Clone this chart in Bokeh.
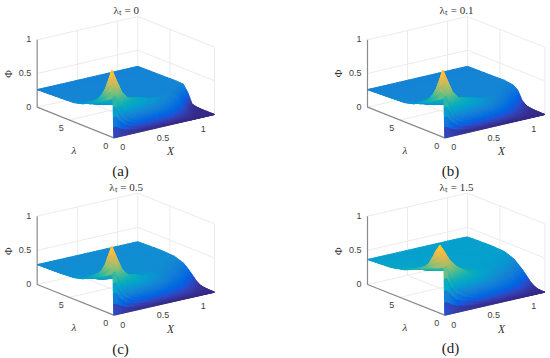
import numpy as np
from bokeh.embed import file_html
from bokeh.resources import INLINE
from bokeh.models import ColumnDataSource, Range1d
from bokeh.plotting import figure
from bokeh.layouts import column, row
from bokeh.transform import linear_cmap
from bokeh.core.properties import value

X_GRID = [0, .03, .08, .15, .25, .4, .55, .7, .85, 1, 1.12, 1.25]
LAMBDA_GRID = [0, .1, .25, .5, .8, 1.2, 1.6, 2, 2.5, 3, 3.5, 4.5, 6, 8.6]

TITLES = ["λₜ = 0", "λₜ = 0.1", "λₜ = 0.5", "λₜ = 1.5"]
TAGS = ["(a)", "(b)", "(c)", "(d)"]
Z_TICKS = ["0", "0.5", "1"]
Z_TICK_VALUES = [0, .5, 1]
X_TICKS = ["0", "0.5", "1"]
X_TICK_VALUES = [0, .5, 1]
LAMBDA_TICKS = ["0", "5"]
LAMBDA_TICK_VALUES = [0, 5]

PHI_A = [
    [0] * 12,
    [.58, .60, .43, .28, .19, .12, .07, .03, .01, 0, 0, 0],
    [.57, .85, .68, .47, .35, .25, .17, .09, .03, .01, 0, 0],
    [.55, .97, .82, .62, .47, .37, .27, .18, .08, .02, .005, 0],
    [.52, .83, .72, .58, .49, .41, .34, .26, .13, .04, .005, 0],
    [.49, .66, .58, .51, .46, .42, .37, .31, .22, .08, .01, 0],
    [.45, .55, .47, .43, .39, .36, .33, .32, .28, .16, .03, .002],
    [.42, .47, .42, .37, .33, .31, .29, .29, .29, .24, .06, .005],
    [.39, .41, .36, .32, .30, .28, .27, .27, .275, .27, .17, .02],
    [.355, .37, .33, .30, .28, .27, .27, .27, .27, .27, .26, .17],
    [.32, .33, .30, .285, .275, .27, .27, .27, .27, .27, .27, .265],
    [.285, .295, .28, .275, .27, .27, .265, .265, .27, .27, .27, .27],
    [.275, .275, .27, .27, .265, .265, .265, .265, .265, .265, .265, .265],
    [.26] * 12,
]
PHI_B = [
    [0] * 12,
    [.58, .60, .43, .28, .19, .12, .07, .03, .01, .005, 0, 0],
    [.57, .85, .68, .47, .35, .25, .16, .09, .04, .015, .005, 0],
    [.55, .97, .82, .62, .47, .37, .27, .18, .09, .035, .01, .002],
    [.52, .83, .72, .58, .49, .41, .34, .25, .14, .07, .02, .003],
    [.49, .66, .58, .51, .46, .42, .37, .30, .21, .11, .04, .005],
    [.45, .55, .47, .43, .39, .36, .33, .31, .26, .16, .08, .01],
    [.42, .47, .42, .37, .33, .31, .29, .29, .28, .21, .13, .02],
    [.39, .41, .36, .32, .30, .28, .27, .27, .275, .26, .20, .07],
    [.355, .37, .33, .30, .28, .27, .27, .27, .27, .27, .245, .20],
    [.32, .33, .30, .285, .275, .27, .27, .27, .27, .27, .265, .25],
    [.285, .295, .28, .275, .27, .27, .265, .265, .27, .27, .27, .27],
    [.275, .275, .27, .27, .265, .265, .265, .265, .265, .265, .265, .265],
    [.26] * 12,
]
PHI_C = [
    [0] * 12,
    [.60, .62, .44, .28, .19, .12, .07, .03, .012, .005, .002, 0],
    [.59, .85, .68, .47, .35, .25, .16, .09, .045, .02, .008, .001],
    [.57, .97, .82, .62, .47, .38, .27, .18, .10, .05, .02, .002],
    [.54, .85, .73, .59, .49, .41, .33, .24, .15, .085, .035, .004],
    [.51, .68, .60, .52, .47, .42, .36, .30, .21, .13, .06, .008],
    [.48, .57, .50, .45, .41, .38, .35, .32, .25, .18, .10, .02],
    [.45, .50, .45, .40, .37, .35, .33, .32, .28, .23, .15, .055],
    [.42, .45, .40, .36, .34, .32, .31, .31, .30, .27, .21, .125],
    [.385, .40, .36, .335, .32, .31, .305, .30, .30, .285, .25, .19],
    [.35, .36, .335, .32, .31, .305, .30, .30, .30, .295, .28, .245],
    [.315, .32, .31, .305, .30, .30, .30, .30, .30, .30, .295, .29],
    [.30] * 12,
    [.29] * 12,
]
PHI_D = [
    [0] * 12,
    [.69, .70, .53, .36, .26, .17, .11, .06, .03, .01, .003, 0],
    [.69, .80, .66, .48, .38, .28, .20, .13, .07, .03, .01, 0],
    [.67, .90, .80, .62, .50, .39, .30, .22, .14, .07, .025, .002],
    [.65, .97, .87, .72, .59, .46, .37, .29, .20, .13, .05, .006],
    [.63, .88, .80, .70, .59, .48, .41, .34, .26, .19, .10, .03],
    [.61, .76, .70, .63, .55, .47, .42, .37, .31, .25, .16, .07],
    [.585, .65, .62, .57, .51, .44, .41, .375, .34, .30, .22, .13],
    [.55, .57, .55, .51, .46, .42, .39, .375, .355, .335, .28, .20],
    [.52, .53, .50, .47, .43, .40, .38, .37, .365, .355, .325, .26],
    [.485, .49, .47, .44, .41, .39, .375, .37, .37, .365, .35, .31],
    [.43, .435, .425, .41, .39, .375, .37, .37, .37, .37, .365, .36],
    [.385, .39, .385, .38, .375, .37, .365, .37, .37, .37, .37, .37],
    [.365] * 11 + [.36],
]
PANEL_PHI = [PHI_A, PHI_B, PHI_C, PHI_D]

PARULA_RGB = [
    (.2081,.1663,.5292),(.2116,.1898,.5777),(.2123,.2138,.6270),(.2081,.2386,.6771),(.1959,.2645,.7279),
    (.1707,.2919,.7792),(.1253,.3242,.8303),(.0591,.3598,.8683),(.0117,.3875,.8820),(.0060,.4086,.8828),
    (.0165,.4266,.8786),(.0329,.4430,.8720),(.0498,.4586,.8641),(.0629,.4737,.8554),(.0723,.4887,.8467),
    (.0779,.5040,.8384),(.0793,.5200,.8312),(.0749,.5375,.8263),(.0641,.5570,.8240),(.0488,.5772,.8228),
    (.0343,.5966,.8199),(.0265,.6137,.8135),(.0239,.6287,.8038),(.0231,.6418,.7913),(.0228,.6535,.7768),
    (.0267,.6642,.7607),(.0384,.6743,.7436),(.0590,.6838,.7254),(.0843,.6928,.7062),(.1133,.7015,.6859),
    (.1453,.7098,.6646),(.1801,.7177,.6424),(.2178,.7250,.6193),(.2586,.7317,.5954),(.3022,.7376,.5712),
    (.3482,.7424,.5473),(.3953,.7459,.5244),(.4420,.7481,.5033),(.4871,.7491,.4840),(.5300,.7491,.4661),
    (.5709,.7485,.4494),(.6099,.7473,.4337),(.6473,.7456,.4188),(.6834,.7435,.4044),(.7184,.7411,.3905),
    (.7525,.7384,.3768),(.7858,.7356,.3633),(.8185,.7327,.3498),(.8507,.7299,.3360),(.8824,.7274,.3217),
    (.9139,.7258,.3063),(.9450,.7261,.2886),(.9739,.7314,.2666),(.9938,.7455,.2403),(.9990,.7653,.2164),
    (.9955,.7861,.1967),(.9880,.8066,.1794),(.9789,.8271,.1633),(.9697,.8481,.1475),(.9626,.8705,.1309),
    (.9589,.8949,.1132),(.9598,.9218,.0948),(.9661,.9514,.0755),(.9763,.9831,.0538)]
_rgb = np.array(PARULA_RGB)
_pos = np.linspace(0, 63, 256)
PALETTE = ["#%02x%02x%02x" % tuple(int(round(np.interp(q, np.arange(64), _rgb[:, c]) * 255)) for c in range(3))
           for q in _pos]

BOXES = [
    dict(front=(340, 412), left=(110, 320), right=(642, 342), h=202, title=(377, 28), tag=(360, 512), phi=(24, 220)),
    dict(front=(508, 412), left=(276, 320), right=(808, 342), h=202, title=(543, 28), tag=(525, 510), phi=(190, 219)),
    dict(front=(340, 407), left=(110, 315), right=(642, 338), h=205, title=(377, 23), tag=(360, 507), phi=(24, 215)),
    dict(front=(508, 407), left=(276, 315), right=(808, 338), h=205, title=(543, 23), tag=(525, 505), phi=(190, 215)),
]
SUB = 4
XMAX = X_GRID[-1]
LMAX = LAMBDA_GRID[-1]
GRID = "#ebebeb"
AXIS = "#8a8a8a"
TEXT = "#404040"


def make_panel(i):
    box = BOXES[i]
    fx, fy = box["front"]
    lx, ly = box["left"]
    rx, ry = box["right"]
    h = box["h"]

    def proj(X, L, Z):
        a, b = np.asarray(X) / XMAX, np.asarray(L) / LMAX
        return fx + a * (rx - fx) + b * (lx - fx), fy + a * (ry - fy) + b * (ly - fy) - np.asarray(Z) * h

    p = figure(width=275, height=179, output_backend="svg", toolbar_location=None,
               x_range=Range1d(0, 825), y_range=Range1d(537, 0), min_border=0,
               outline_line_color=None, background_fill_color="white", border_fill_color="white")
    p.axis.visible = False
    p.grid.visible = False

    def seg(pts, color, width):
        xs, ys = proj(*zip(*pts))
        p.line(list(xs), list(ys), line_color=color, line_width=width)

    for z in [0, .5, 1]:
        seg([(0, LMAX, z), (XMAX, LMAX, z), (XMAX, 0, z)], GRID, 1)
    seg([(XMAX, LMAX, 0), (XMAX, LMAX, 1)], GRID, 1)
    seg([(XMAX, 0, 0), (XMAX, 0, 1)], GRID, 1)
    for v in X_TICK_VALUES[1:]:
        seg([(v, 0, 0), (v, LMAX, 0), (v, LMAX, 1)], GRID, 1)
    for v in LAMBDA_TICK_VALUES[1:]:
        seg([(0, v, 0), (XMAX, v, 0), (XMAX, v, 1)], GRID, 1)
    seg([(0, LMAX, 1), (0, LMAX, 0), (0, 0, 0), (XMAX, 0, 0)], AXIS, 1.2)

    phi = np.array(PANEL_PHI[i], dtype=float)
    Xg, Lg = np.array(X_GRID), np.array(LAMBDA_GRID)
    xs, ys, zs = [], [], []
    t = np.linspace(0, 1, SUB + 1)
    for j in range(len(Lg) - 2, -1, -1):
        for k in range(len(Xg) - 2, -1, -1):
            q00, q01 = phi[j, k], phi[j, k + 1]
            q10, q11 = phi[j + 1, k], phi[j + 1, k + 1]
            for v in range(SUB - 1, -1, -1):
                for u in range(SUB - 1, -1, -1):
                    us = np.array([t[u], t[u + 1], t[u + 1], t[u]])
                    vs = np.array([t[v], t[v], t[v + 1], t[v + 1]])
                    Z = (1 - vs) * ((1 - us) * q00 + us * q01) + vs * ((1 - us) * q10 + us * q11)
                    XX = Xg[k] + us * (Xg[k + 1] - Xg[k])
                    LL = Lg[j] + vs * (Lg[j + 1] - Lg[j])
                    px, py = proj(XX, LL, Z)
                    xs.append(px.tolist())
                    ys.append(py.tolist())
                    zs.append(float(Z.mean()))
    src = ColumnDataSource(dict(xs=xs, ys=ys, z=zs))
    cmap = linear_cmap("z", PALETTE, 0, 1.05)
    p.patches("xs", "ys", source=src, fill_color=cmap, line_color=cmap, line_width=1)

    def label(x, y, s, size, font="Liberation Sans", style="normal", color=TEXT, angle=0.0, align="center"):
        p.text([x], [y], text=[s], text_font=value(font), text_font_size=size, text_font_style=style,
               text_color=color, text_align=align, text_baseline="middle", angle=angle)

    for lab, v in zip(Z_TICKS, Z_TICK_VALUES):
        x0, y0 = proj(0, LMAX, v)
        label(float(x0) - 18, float(y0) - 2, lab, "9px", align="right")
    for lab, v in zip(X_TICKS, X_TICK_VALUES):
        x0, y0 = proj(v, 0, 0)
        label(float(x0) + 27, float(y0) + 28, lab, "9px")
    for lab, v in zip(LAMBDA_TICKS, LAMBDA_TICK_VALUES):
        x0, y0 = proj(0, v, 0)
        label(float(x0) - 24, float(y0) + 24, lab, "9px")
    label(box["title"][0], box["title"][1], TITLES[i], "11px", font="Liberation Serif", color="#303030")
    label(box["tag"][0], box["tag"][1], TAGS[i], "15px", font="Liberation Serif", color="#222222")
    label(box["phi"][0], box["phi"][1], "Φ", "10.5px", font="Liberation Serif", color="#303030", angle=np.pi / 2)
    label(fx - 120, fy + 35, "λ", "11px", font="Liberation Serif", style="italic", color="#303030")
    label(fx + 170, fy + 40, "X", "11.5px", font="Liberation Serif", style="italic", color="#303030")
    return p


panels = [make_panel(i) for i in range(4)]
page = column(row(panels[0], panels[1], spacing=0), row(panels[2], panels[3], spacing=0), spacing=0)
open("out.html", "w").write(file_html(page, INLINE))
